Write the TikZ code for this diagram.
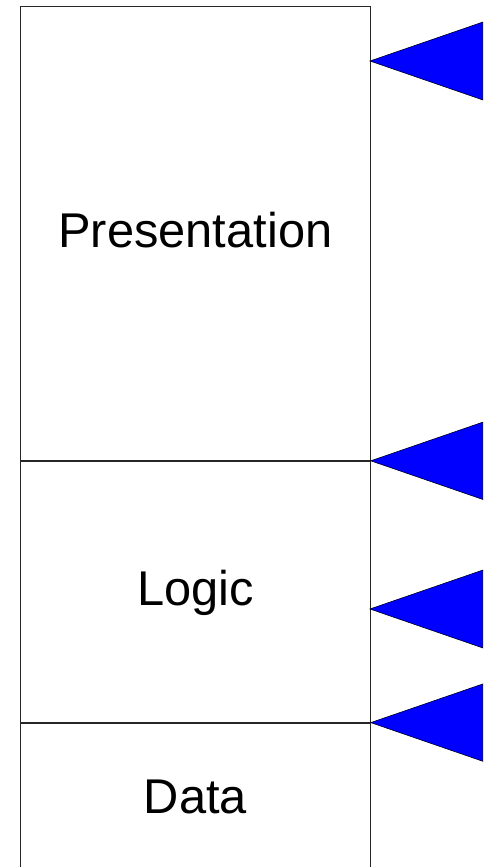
\documentclass[tikz,border=0pt]{standalone}
\usepackage{fontspec}
\setmainfont{Liberation Sans}
\usepackage{tikz}

\tikzset{
  layer/.style={draw=black!85, line width=0.8pt, anchor=north west, inner sep=0pt,
    minimum width=350pt, text height=38pt, text depth=10pt,
    font=\fontsize{48.8}{58}\selectfont},
  marker/.style={fill=blue, draw=black, line width=0.6pt}
}

\begin{document}
\begin{tikzpicture}[x=1pt, y=-1pt]
\useasboundingbox (0,0) rectangle (483,867);
\clip (0,0) rectangle (483,867);

% the three tiers
\node[layer, minimum height=453.5pt] (pres) at (20,6.5) {Presentation};
\node[layer, minimum height=261pt] (logic) at (pres.south west) {Logic};
\node[layer, minimum height=153pt] (data) at (logic.south west) {Data};

% tips of the markers on the right side
\coordinate (m1) at (370,61);
\coordinate (m2) at (logic.north east);
\coordinate (m3) at (370,609);
\coordinate (m4) at (data.north east);

\foreach \m in {m1,m2,m3,m4}
  \draw[marker] (\m) -- ++ (140,-48.3) -- ++ (0,96.6) -- cycle;
\end{tikzpicture}
\end{document}
